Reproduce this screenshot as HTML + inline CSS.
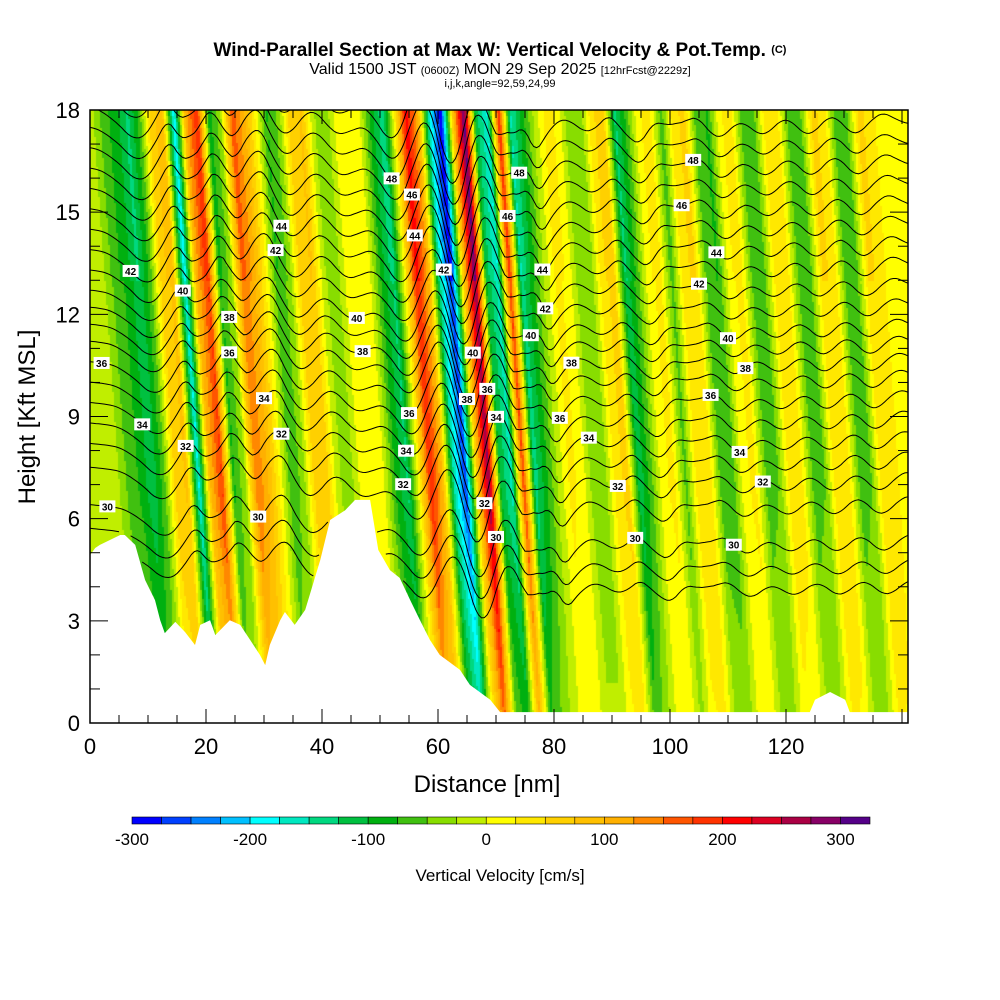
<!DOCTYPE html>
<html><head><meta charset="utf-8">
<style>
body{margin:0;background:#fff;width:1000px;height:1000px;overflow:hidden;font-family:"Liberation Sans",sans-serif}
#wrap{position:relative;width:1000px;height:1000px}
canvas{position:absolute;left:0;top:0}
svg{position:absolute;left:0;top:0}
</style></head>
<body>
<div id="wrap">
<canvas id="field" width="1000" height="1000"></canvas>
<svg id="svg" width="1000" height="1000">
<text x="500" y="56" text-anchor="middle" font-size="19" font-weight="bold">Wind-Parallel Section at Max W: Vertical Velocity &amp; Pot.Temp. <tspan font-size="11" dy="-3">(C)</tspan></text>
<text x="500" y="74" text-anchor="middle" font-size="16">Valid 1500 JST <tspan font-size="11">(0600Z)</tspan> MON 29 Sep 2025 <tspan font-size="11">[12hrFcst@2229z]</tspan></text>
<text x="500" y="87" text-anchor="middle" font-size="11">i,j,k,angle=92,59,24,99</text>
<text x="487" y="792" text-anchor="middle" font-size="24">Distance [nm]</text>
<text transform="translate(35,417) rotate(-90)" text-anchor="middle" font-size="24">Height [Kft MSL]</text>
<text x="500" y="881" text-anchor="middle" font-size="17">Vertical Velocity [cm/s]</text>
<defs><clipPath id="pc"><rect x="90" y="110" width="818" height="613"/></clipPath></defs>
<g id="terrain"></g>
<g id="contours" clip-path="url(#pc)"></g>
<g id="labels"></g>
<g id="axes"></g>
<g id="cbar"></g>
</svg>
</div>
<script>
// vertical velocity (cm/s) at 9 kft, sampled every 2 nm from 0
const wProfile=[-10,-10,-20,-60,-80,-120,-60,60,80,-180,100,180,-80,-30,150,100,20,-70,-40,60,70,-20,-40,10,20,0,-80,-130,20,200,100,-150,-270,60,280,-100,-160,180,-140,-80,-20,30,20,-40,-40,40,60,-120,-60,20,30,-60,40,50,-60,-70,20,30,-60,-50,40,30,-60,-50,50,40,-60,-50,50,40,0];
const terrainNm=[0,0.9,1.7,5.2,6.0,7.8,9.5,11.2,12.1,12.9,14.7,16.4,18.1,19.0,20.7,21.6,24.1,25.9,27.6,29.3,30.2,31.0,32.8,33.6,35.3,37.1,39.7,41.4,44.0,45.7,48.3,49.7,51.7,53.4,55.2,56.9,58.6,60.3,63.8,65.5,69.0,70.7,124.1,125,127.6,130.2,131,141];
const terrainKft=[4.93,5.14,5.23,5.52,5.52,5.23,4.20,3.61,3.02,2.64,2.97,2.67,2.29,2.88,3.02,2.58,3.02,2.88,2.44,2.00,1.70,2.29,3.02,3.26,2.88,3.32,4.79,5.96,6.25,6.55,6.55,5.08,4.49,4.26,3.61,3.02,2.44,2.00,1.56,1.12,0.68,0.32,0.32,0.68,0.91,0.68,0.32,0.32];
const thetaLevels=[28,29,30,31,32,33,34,35,36,37,38,39,40,41,42,43,44,45,46,47,48,49,50];
const thetaBase=[4.0,4.6,5.3,6.4,7.1,7.7,8.3,8.9,9.5,10.1,10.6,11.1,11.6,12.2,12.8,13.4,14.0,14.6,15.2,15.8,16.4,17.0,17.6];
const labelLevels=[28,30,34,36,42,40,32,36,38,34,32,30,44,42,48,40,38,30,36,34,32,44,46,48,42,38,36,40,34,32,30,46,48,44,42,40,38,36,34,32,30,48,46,44,42,40,38,36,34,32,30];
const labelNm=[2,3,9,2,7,16,16.5,24,24,30,33,29,33,32,21,46,47,47,55,54.5,54,56,55.5,52,61,65,68.5,66,70,68,70,72,74,78,78.5,76,83,81,86,91,94,104,102,108,105,110,113,107,112,116,111];
const cbColors=["#0000ff","#0040ff","#0080ff","#00c0ff","#00ffff","#00e8c0","#00d880","#00c040","#00b010","#40c010","#88dd00","#c0ee00","#ffff00","#ffe800","#ffd000","#ffc000","#ffb000","#ff8800","#ff5500","#ff3300","#ff0000","#dd0022","#aa0044","#880066","#550088"];
const cbTicks=[-300,-200,-100,0,100,200,300];
const xTicks=[0,20,40,60,80,100,120];
const yTicks=[0,3,6,9,12,15,18];

const X=nm=>90+nm*5.8, Y=h=>723-h*34.0556;
const NS='http://www.w3.org/2000/svg';
function interp(xs,ys,x){if(x<=xs[0])return ys[0];for(let i=1;i<xs.length;i++){if(x<=xs[i]){const t=(x-xs[i-1])/(xs[i]-xs[i-1]);return ys[i-1]+t*(ys[i]-ys[i-1]);}}return ys[ys.length-1];}
function prof(nm){const p=nm/2;const i=Math.max(0,Math.min(wProfile.length-2,Math.floor(p)));const t=Math.max(0,Math.min(1,p-i));return wProfile[i]*(1-t)+wProfile[i+1]*t;}
function wAt(nm,h){const amp=h<7?0.55+0.065*h:(h>13?1.1:1);return prof(nm+0.4*(h-9))*amp;}
function wSmooth(nm,h){let s=0;for(let o=-2.5;o<=2.5;o+=0.5)s+=wAt(nm+o,h);return s/11;}
function terr(nm){return interp(terrainNm,terrainKft,nm);}
function colorOf(w){let i=Math.floor((w+300)/25);i=Math.max(0,Math.min(24,i));return cbColors[i];}
// field
const ctx=document.getElementById('field').getContext('2d');
for(let px=90;px<908;px+=2){for(let py=110;py<712;py+=3){const nm=(px+1-90)/5.8,h=(723-py-1.5)/34.0556;ctx.fillStyle=colorOf(wAt(nm,h));ctx.fillRect(px,py,2,3);}}
// terrain
const tp=document.createElementNS(NS,'path');
let d='M'+X(0)+','+Y(0);terrainNm.forEach((n,i)=>{d+=' L'+Math.min(908,X(n)).toFixed(1)+','+Y(terrainKft[i]).toFixed(1);});d+=' L908,723 Z';
tp.setAttribute('d',d);tp.setAttribute('fill','#fff');


document.getElementById('terrain').appendChild(tp);
// contours
function thetaH(k,nm){const b=thetaBase[k]+(nm<70?1.2*(70-nm)/70:0);return b+0.009*wSmooth(nm-2.5,b);}
const cg=document.getElementById('contours');
thetaLevels.forEach((lv,k)=>{let s='',pen=false;for(let nm=0;nm<=141;nm+=0.5){const h=thetaH(k,nm);if(h<terr(nm)+0.1){pen=false;continue;}s+=(pen?' L':' M')+X(nm).toFixed(1)+','+Y(h).toFixed(1);pen=true;}
const p=document.createElementNS(NS,'path');p.setAttribute('d',s);p.setAttribute('fill','none');p.setAttribute('stroke','#000');p.setAttribute('stroke-width','1');


cg.appendChild(p);});
// labels
const lg=document.getElementById('labels');
labelLevels.forEach((lv,i)=>{const k=thetaLevels.indexOf(lv),nm=labelNm[i],h=thetaH(k,nm);if(h>17.8||h<terr(nm))return;const x=X(nm),y=Y(h);
const g=document.createElementNS(NS,'g');


g.innerHTML='<rect x="'+(x-8)+'" y="'+(y-6)+'" width="16" height="12" fill="#fff"/><text x="'+x+'" y="'+(y+4)+'" text-anchor="middle" font-size="10" font-weight="bold">'+lv+'</text>';lg.appendChild(g);});
// axes
const ax=document.getElementById('axes');let a='<rect x="90" y="110" width="818" height="613" fill="none" stroke="#000" stroke-width="1.5"/>';
for(let n=0;n<=140;n+=5){const x=X(n),L=n%20==0?14:8;a+='<line x1="'+x+'" y1="723" x2="'+x+'" y2="'+(723-L)+'" stroke="#000"/><line x1="'+x+'" y1="110" x2="'+x+'" y2="'+(110+L)+'" stroke="#000"/>';}
for(let h=0;h<=18;h++){const y=Y(h),L=h%3==0?18:10;a+='<line x1="90" y1="'+y+'" x2="'+(90+L)+'" y2="'+y+'" stroke="#000"/><line x1="908" y1="'+y+'" x2="'+(908-L)+'" y2="'+y+'" stroke="#000"/>';}
ax.innerHTML=a;
xTicks.forEach(t=>{const e=document.createElementNS(NS,'text');e.setAttribute('x',X(t));e.setAttribute('y',754);e.setAttribute('text-anchor','middle');e.setAttribute('font-size','22');e.textContent=t;


ax.appendChild(e);});
yTicks.forEach(t=>{const e=document.createElementNS(NS,'text');e.setAttribute('x',80);e.setAttribute('y',Y(t)+8);e.setAttribute('text-anchor','end');e.setAttribute('font-size','22');e.textContent=t;


ax.appendChild(e);});
// colorbar
const cb=document.getElementById('cbar');const bw=29.52;
cbColors.forEach((c,i)=>{const r=document.createElementNS(NS,'rect');r.setAttribute('x',132+i*bw);r.setAttribute('y',817);r.setAttribute('width',bw);r.setAttribute('height',7);r.setAttribute('fill',c);r.setAttribute('stroke','#000');r.setAttribute('stroke-width','0.6');


cb.appendChild(r);});
cbTicks.forEach(t=>{const e=document.createElementNS(NS,'text');e.setAttribute('x',132+(t+300)/25*bw);e.setAttribute('y',845);e.setAttribute('text-anchor','middle');e.setAttribute('font-size','17');e.textContent=t;


cb.appendChild(e);});
</script>
</body></html>
